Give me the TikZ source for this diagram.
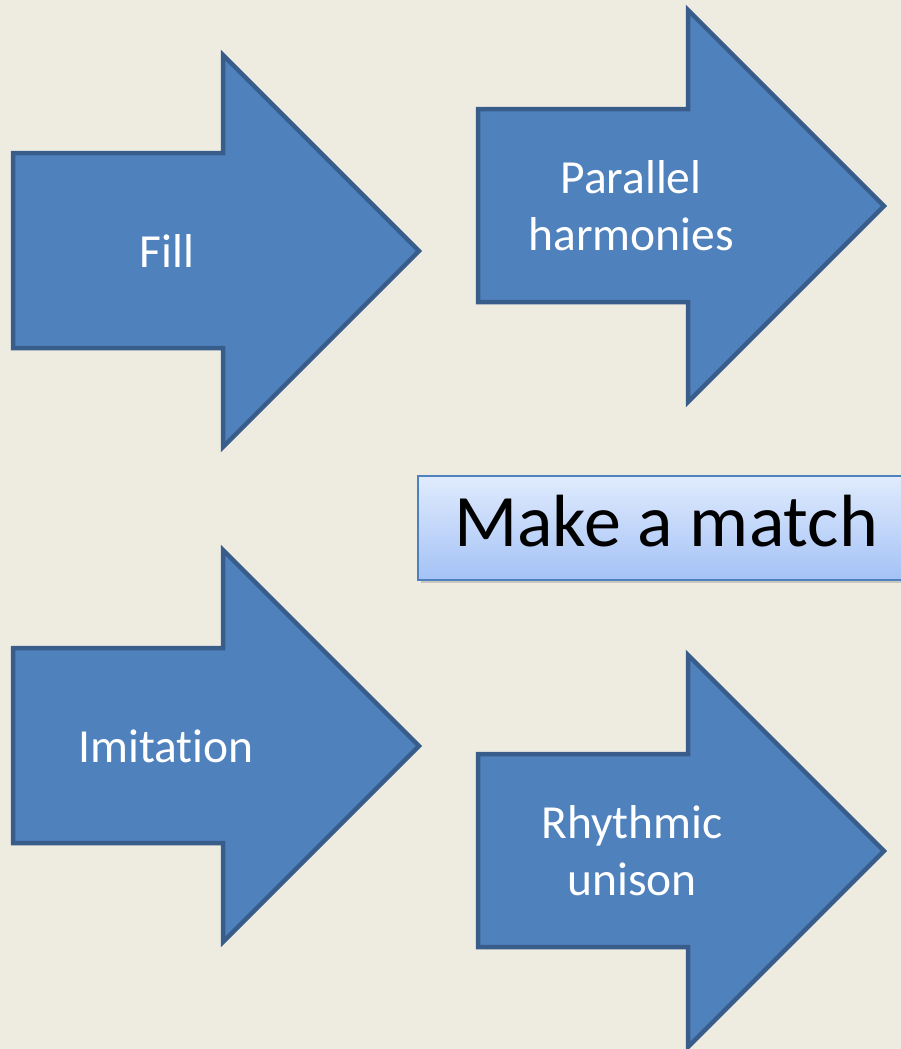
\documentclass[tikz,border=0pt]{standalone}
\usepackage{fontspec}
\setmainfont{Carlito}[Ligatures=CommonOff]
\usetikzlibrary{shadows}
\definecolor{slidebg}{HTML}{EEECE1}
\definecolor{arrowfill}{HTML}{4F81BD}
\definecolor{arrowedge}{HTML}{385D8A}
\definecolor{boxtop}{HTML}{E0EBFD}
\definecolor{boxbottom}{HTML}{A4C2F6}

\begin{document}
\begin{tikzpicture}[x=1pt,y=-1pt,
		blockarrow/.style={fill=arrowfill, draw=arrowedge, line width=4.5pt, line join=miter},
		arrowtext/.style={text=white, font=\fontsize{47.5}{57}\selectfont, align=center, anchor=base, inner sep=0pt},
		matchbox/.style={draw=arrowfill, line width=2pt, top color=boxtop, bottom color=boxbottom,
			minimum width=496pt, minimum height=104pt, font=\fontsize{74}{88}\selectfont,
			text height=51pt, text depth=14pt,
			drop shadow={shadow xshift=3pt, shadow yshift=-3pt, opacity=0.35}}]
		% Background
		\fill[slidebg] (0,0) rectangle (901,1049);
		\useasboundingbox (0,0) rectangle (901,1049);
		% Draw arrows
		\draw[blockarrow] (13,153) -- (223,153) -- (223,55) -- (419,251) -- (223,447) -- (223,348) -- (13,348) -- cycle;
		\draw[blockarrow] (478,109) -- (688,109) -- (688,10) -- (884,206) -- (688,402) -- (688,302) -- (478,302) -- cycle;
		\draw[blockarrow] (13,648) -- (223,648) -- (223,550) -- (419,746) -- (223,942) -- (223,843) -- (13,843) -- cycle;
		\draw[blockarrow] (478,754) -- (688,754) -- (688,655) -- (884,851) -- (688,1047) -- (688,947) -- (478,947) -- cycle;
		% Label arrows (base = last line)
		\node[arrowtext] (fill) at (167,267) {Fill};
		\node[arrowtext] (parallel) at (631,250) {Parallel\\harmonies};
		\node[arrowtext] (imitation) at (166,762) {Imitation};
		\node[arrowtext] (rhythmic) at (632,895) {Rhythmic\\unison};
		% Title box
		\node[matchbox] (match) at (666,528) {Make a match};
	\end{tikzpicture}
\end{document}
